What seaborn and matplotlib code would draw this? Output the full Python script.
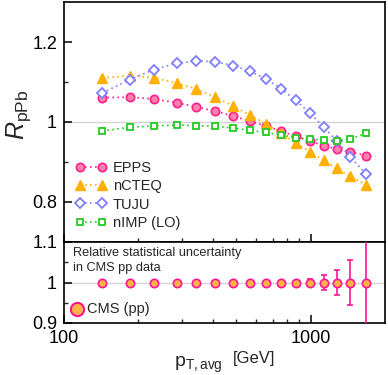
import numpy as np
import pandas as pd
import matplotlib
matplotlib.use("Agg")
import matplotlib.pyplot as plt
import seaborn as sns
from matplotlib.ticker import FixedLocator, NullFormatter, FixedFormatter

sns.set_theme(style="ticks")
plt.rcParams['font.family'] = ['Liberation Sans', 'DejaVu Sans']
plt.rcParams['mathtext.fontset'] = 'custom'
plt.rcParams['mathtext.rm'] = 'Liberation Sans'
plt.rcParams['mathtext.it'] = 'Liberation Sans:italic'
plt.rcParams['mathtext.bf'] = 'Liberation Sans:bold'

# ---- data ----
pt = [143, 185, 231, 286, 344, 410, 485, 566, 659, 761, 869, 990, 1129, 1277, 1448, 1680]
epps = [1.061, 1.062, 1.0575, 1.048, 1.038, 1.027, 1.015, 1.002, 0.990, 0.977, 0.964, 0.953, 0.941, 0.9325, 0.925, 0.916]
ncteq = [1.110, 1.116, 1.111, 1.097, 1.0825, 1.0625, 1.040, 1.018, 0.995, 0.972, 0.9475, 0.926, 0.904, 0.884, 0.864, 0.843]
tuju = [1.0725, 1.106, 1.131, 1.147, 1.1525, 1.151, 1.141, 1.127, 1.1075, 1.083, 1.054, 1.023, 0.987, 0.952, 0.912, 0.870]
nimp = [0.9775, 0.987, 0.990, 0.9925, 0.991, 0.989, 0.985, 0.979, 0.974, 0.9675, 0.961, 0.957, 0.955, 0.953, 0.9575, 0.972]
cms_ratio = [1.0] * 16
cms_err = [0.002, 0.002, 0.002, 0.002, 0.002, 0.002, 0.002, 0.002, 0.002, 0.003, 0.004, 0.008, 0.019, 0.032, 0.056, 0.15]

series_names = ["EPPS", "nCTEQ", "TUJU", "nIMP (LO)"]
xticks_major = [100, 1000]
xtick_labels = ["100", "1000"]

W, H = 388, 375
fig = plt.figure(figsize=(W / 100, H / 100), dpi=100)
fig.patch.set_facecolor('white')

L, R = 64 / W, 385 / W
ax1 = fig.add_axes([L, 1 - 242 / H, R - L, 240 / H])
ax2 = fig.add_axes([L, 1 - 323 / H, R - L, 81 / H], sharex=ax1)

styles = [
    dict(marker='o', color='#ff1f8f', markerfacecolor='#ff80aa', markeredgecolor='#ff1f8f', markersize=6.0, markeredgewidth=1.2),
    dict(marker='^', color='#ffae00', markerfacecolor='#ffb000', markeredgecolor='#ffb000', markersize=7.0, markeredgewidth=1.0),
    dict(marker='D', color='#7f7fff', markerfacecolor='white', markeredgecolor='#7f7fff', markersize=5.4, markeredgewidth=1.3),
    dict(marker='s', color='#22cc22', markerfacecolor='white', markeredgecolor='#22cc22', markersize=5.0, markeredgewidth=1.3),
]
for name, vals, st in zip(series_names, [epps, ncteq, tuju, nimp], styles):
    df = pd.DataFrame({'pt': pt, 'R': vals})
    sns.lineplot(data=df, x='pt', y='R', ax=ax1, linestyle=(0, (1, 2)), linewidth=1.2,
                 label=name, **st)

ax1.axhline(1.0, color='#d4d4d4', lw=1.0, zorder=0)
ax1.set_xscale('log')
ax1.set_xlim(100, 2000)
ax1.set_ylim(0.7, 1.3)
ax1.yaxis.set_major_locator(FixedLocator([0.8, 1.0, 1.2]))
ax1.yaxis.set_major_formatter(FixedFormatter(["0.8", "1", "1.2"]))
ax1.yaxis.set_minor_locator(FixedLocator([0.9, 1.1]))
ax1.set_xlabel('')
ax1.set_ylabel('')

leg = ax1.legend(loc='lower left', bbox_to_anchor=(0.015, 0.02), frameon=False, numpoints=2,
                 handlelength=2.05, handletextpad=0.45, labelspacing=0.3, fontsize=10.5,
                 borderaxespad=0.3, borderpad=0.2)

# ---- bottom panel ----
ax2.axhline(1.0, color='#d4d4d4', lw=1.0, zorder=0)
ax2.errorbar(pt, cms_ratio, yerr=cms_err, fmt='o', color='#ff1493', ecolor='#ff1493',
             markerfacecolor='#ffb347', markeredgecolor='#ff1493', markersize=6.0,
             markeredgewidth=1.2, capsize=2.0, elinewidth=1.2, capthick=1.0, zorder=3)
ax2.set_ylim(0.9, 1.1)
ax2.yaxis.set_major_locator(FixedLocator([0.9, 1.0, 1.1]))
ax2.yaxis.set_major_formatter(FixedFormatter(["0.9", "1", "1.1"]))
ax2.yaxis.set_minor_locator(FixedLocator([0.95, 1.05]))
ax2.set_xlim(100, 2000)
ax2.xaxis.set_major_locator(FixedLocator(xticks_major))
ax2.xaxis.set_major_formatter(FixedFormatter(xtick_labels))
ax2.xaxis.set_minor_locator(FixedLocator([200, 300, 400, 500, 600, 700, 800, 900]))
ax2.xaxis.set_minor_formatter(NullFormatter())
ax2.set_xlabel('')
ax2.set_ylabel('')

ax2.text(0.028, 0.94, "Relative statistical uncertainty\nin CMS pp data", transform=ax2.transAxes,
         ha='left', va='top', fontsize=9.2, linespacing=1.3)
ax2.plot([0.04], [0.17], transform=ax2.transAxes, marker='o', markersize=9.5,
         markerfacecolor='#ffb347', markeredgecolor='#ff1493', markeredgewidth=1.5, clip_on=False)
ax2.text(0.073, 0.17, "CMS (pp)", transform=ax2.transAxes, ha='left', va='center', fontsize=10.5)

for ax in (ax1, ax2):
    for sp in ax.spines.values():
        sp.set_linewidth(1.2)
        sp.set_color('black')
    ax.tick_params(which='major', direction='in', length=5.8, width=1.1, labelsize=13,
                   top=False, right=False, pad=5, colors='black')
    ax.tick_params(which='minor', direction='in', length=3.0, width=1.0, top=False, right=False)
ax1.tick_params(axis='x', which='both', labelbottom=False)
ax1.xaxis.set_major_locator(FixedLocator(xticks_major))
ax1.xaxis.set_minor_locator(FixedLocator([200, 300, 400, 500, 600, 700, 800, 900]))
ax1.xaxis.set_minor_formatter(NullFormatter())

fig.text(19 / W, 1 - 115 / H, r'$R_{\mathrm{pPb}}$', fontsize=18, rotation=90,
         ha='center', va='center')
fig.text(174 / W, 1 - 367 / H, r'$\mathregular{p_{T,avg}}$', fontsize=14, ha='left', va='baseline')
fig.text(254 / W, 1 - 359 / H, "[GeV]", fontsize=12, ha='center', va='center')

fig.savefig('out.png', dpi=100)
